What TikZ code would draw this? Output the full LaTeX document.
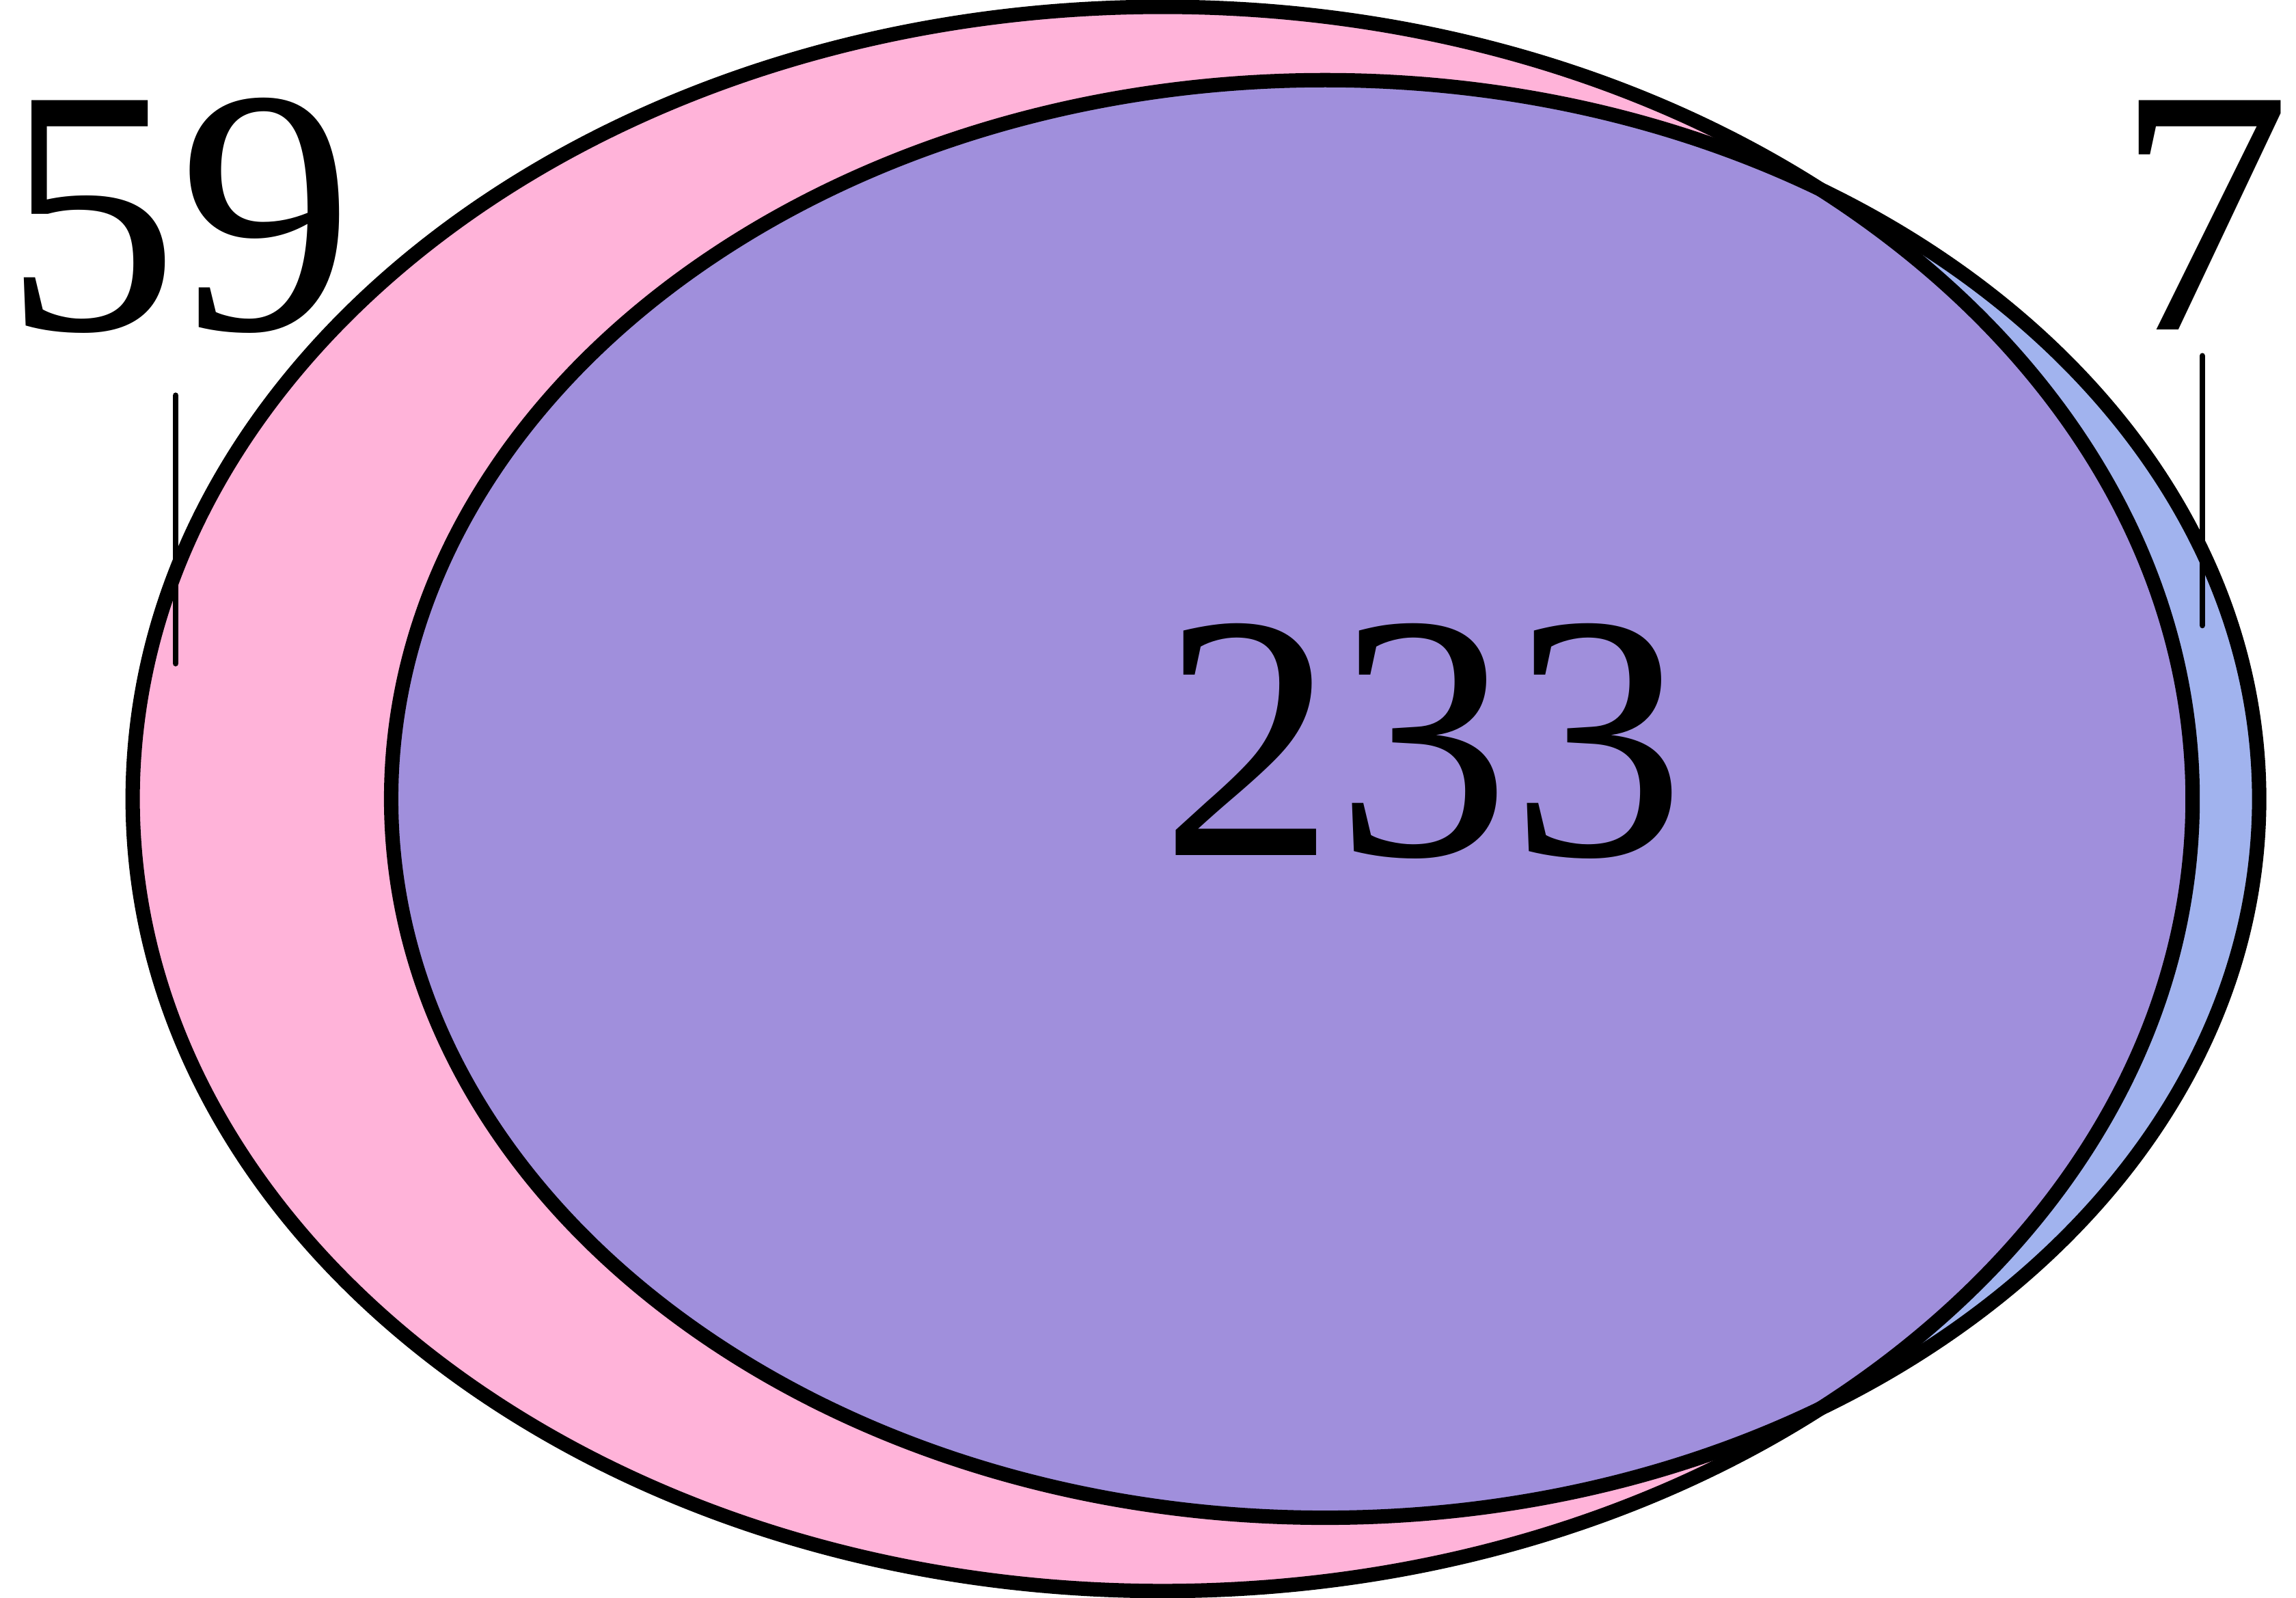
\documentclass[tikz,border=0pt]{standalone}
\usepackage{fontspec}
\setmainfont{Liberation Serif}
\usepackage{xcolor}
\usepackage{tikz}
\usetikzlibrary{positioning}

\definecolor{setpink}{HTML}{FFB3D9}
\definecolor{setblue}{HTML}{A1B3EE}
\definecolor{setboth}{HTML}{A08FDC}

\begin{document}
\begin{tikzpicture}[
          x=0.01cm, y=-0.01cm,
          setline/.style={draw=black, line width=0.098cm},
          tick/.style={line width=0.04cm, line cap=round},
          count/.style={inner sep=0pt, anchor=base,
                        font=\fontsize{68}{68}\selectfont}
        ]
          \useasboundingbox (0,0) rectangle (1568,1091);
          % set centres
          \coordinate (cA) at (794,545.5);
          \coordinate (cB) at (905,545.5);
          % fills
          \fill[setpink] (cA) ellipse [x radius=7.03cm, y radius=5.405cm];
          \fill[setblue] (cB) ellipse [x radius=6.375cm, y radius=4.905cm];
          \begin{scope}
            \clip (cA) ellipse [x radius=7.03cm, y radius=5.405cm];
            \fill[setboth] (cB) ellipse [x radius=6.375cm, y radius=4.905cm];
          \end{scope}
          % outlines
          \draw[setline] (cA) ellipse [x radius=7.03cm, y radius=5.405cm];
          \draw[setline] (cB) ellipse [x radius=6.375cm, y radius=4.905cm];
          % counts
          \node[count] (onlyA) at (122,225) {59};
          \node[count] (onlyB) at (1505,225) {7};
          \node[count] (both)  at (972,584) {233};
          \coordinate (tickA1) at (120,270);
          \coordinate (tickA2) at (120,453);
          \coordinate (tickB1) at (1504,243);
          \coordinate (tickB2) at (1504,427);
          \draw[tick] (tickA1) -- (tickA2);
          \draw[tick] (tickB1) -- (tickB2);
        \end{tikzpicture}
\end{document}
